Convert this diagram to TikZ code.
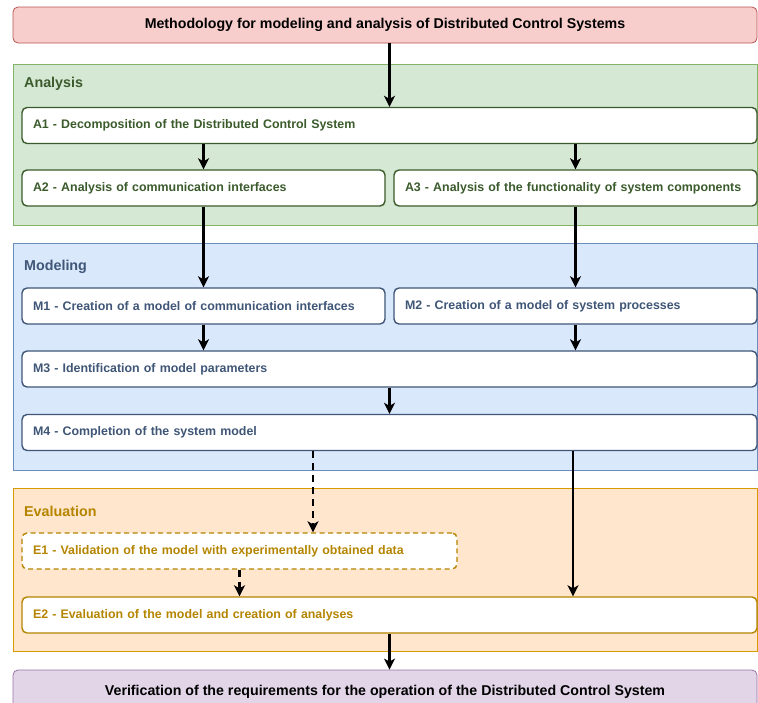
\documentclass[tikz,border=0pt]{standalone}
\usepackage{fontspec}
\setmainfont{Liberation Sans}
\usetikzlibrary{arrows.meta,calc}
\definecolor{redfill}{HTML}{F8CECC}
\definecolor{redline}{HTML}{B85450}
\definecolor{greenfill}{HTML}{D5E8D4}
\definecolor{greenline}{HTML}{82B366}
\definecolor{greentext}{HTML}{3B5B2C}
\definecolor{bluefill}{HTML}{DAE8FC}
\definecolor{blueline}{HTML}{6C8EBF}
\definecolor{bluetext}{HTML}{3F5677}
\definecolor{orangefill}{HTML}{FFE6CC}
\definecolor{orangeline}{HTML}{D79B00}
\definecolor{goldtext}{HTML}{B58500}
\definecolor{purplefill}{HTML}{E1D5E7}
\definecolor{purpleline}{HTML}{9673A6}
\tikzset{
  container/.style={draw, line width=0.8pt, minimum width=744pt, inner sep=0pt},
  grouplabel/.style={anchor=west, inner sep=0pt, font=\fontsize{14.3}{16}\selectfont\bfseries},
  box/.style={draw, rounded corners=5pt, line width=1.4pt, fill=white, minimum height=36pt,
    inner xsep=11pt, inner ysep=0pt, align=left, font=\fontsize{12.4}{14}\selectfont\bfseries},
  endbox/.style={draw, rounded corners=5pt, line width=0.8pt, minimum width=744pt, minimum height=36pt,
    inner sep=0pt, font=\fontsize{14.2}{16}\selectfont\bfseries},
  wide/.style={text width=713pt, minimum width=735pt},
  half/.style={text width=341pt, minimum width=363pt},
  abox/.style={box, draw=greentext, text=greentext},
  mbox/.style={box, draw=bluetext, text=bluetext},
  ebox/.style={box, draw=goldtext, text=goldtext},
  arr/.style={-{Stealth[length=11pt,width=11pt,inset=3pt]}, line width=2.2pt, black},
  darr/.style={arr, dash pattern=on 7pt off 5pt}
}
\begin{document}
\begin{tikzpicture}[x=1pt,y=-1pt]
\useasboundingbox (0,0) rectangle (758,702);
% containers
\node[container, draw=greenline, fill=greenfill, minimum height=161pt] (GA) at (385,144.5) {};
\node[container, draw=blueline, fill=bluefill, minimum height=227pt] (GM) at (385,356.5) {};
\node[container, draw=orangeline, fill=orangefill, minimum height=163pt] (GE) at (385,569.5) {};
\node[grouplabel, text=greentext] (LA) at (24,84) {Analysis};
\node[grouplabel, text=bluetext] (LM) at (24,267) {Modeling};
\node[grouplabel, text=goldtext] (LE) at (24,511) {Evaluation};
% title and end
\node[endbox, draw=redline, fill=redfill] (T) at (385,25) {Methodology for modeling and analysis of Distributed Control Systems};
\node[endbox, draw=purpleline, fill=purplefill, minimum height=44pt] (V) at (385,692) {\raisebox{4pt}{Verification of the requirements for the operation of the Distributed Control System}};
% analysis
\node[abox, wide] (A1) at (389.5,125.5) {A1 - Decomposition of the Distributed Control System};
\node[abox, half] (A2) at (203.5,188) {A2 - Analysis of communication interfaces};
\node[abox, half] (A3) at (575.5,188) {A3 - Analysis of the functionality of system components};
% modeling
\node[mbox, half] (M1) at (203.5,306) {M1 - Creation of a model of communication interfaces};
\node[mbox, half] (M2) at (575.5,306) {M2 - Creation of a model of system processes};
\node[mbox, wide] (M3) at (389.5,369) {M3 - Identification of model parameters};
\node[mbox, wide] (M4) at (389.5,432.5) {M4 - Completion of the system model};
% evaluation
\node[ebox, text width=413pt, minimum width=435pt, dash pattern=on 5pt off 3.5pt] (E1) at (239.5,551) {E1 - Validation of the model with experimentally obtained data};
\node[ebox, wide] (E2) at (389.5,615) {E2 - Evaluation of the model and creation of analyses};
% helper coordinates
\coordinate (cx1) at (313,0);
\coordinate (cx2) at (573,0);
% connectors
\draw[arr] (T.south -| A1.north) -- (A1.north);
\draw[arr] (A1.south -| A2.north) -- (A2.north);
\draw[arr] (A1.south -| A3.north) -- (A3.north);
\draw[arr] (A2.south) -- (M1.north);
\draw[arr] (A3.south) -- (M2.north);
\draw[arr] (M1.south) -- (M1.south |- M3.north);
\draw[arr] (M2.south) -- (M2.south |- M3.north);
\draw[arr] (M3.south) -- (M4.north);
\draw[darr] (M4.south -| cx1) -- (E1.north -| cx1);
\draw[darr] (E1.south) -- (E1.south |- E2.north);
\draw[arr] (M4.south -| cx2) -- (E2.north -| cx2);
\draw[arr] (E2.south) -- (E2.south |- V.north);
\end{tikzpicture}
\end{document}
